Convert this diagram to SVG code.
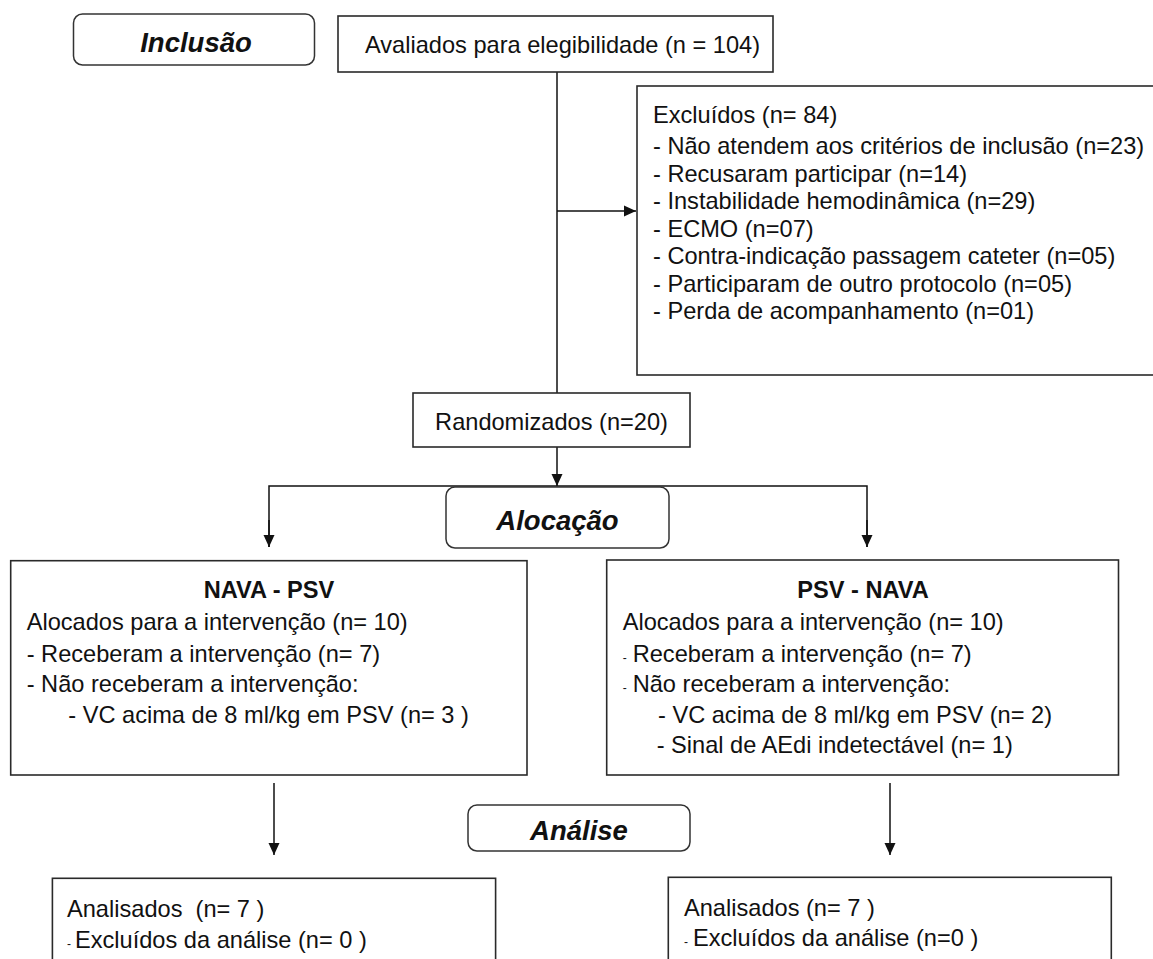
<svg xmlns="http://www.w3.org/2000/svg" width="1153" height="959" viewBox="0 0 1153 959">
<defs>
<marker id="ah" viewBox="0 0 12 12" refX="12" refY="6" markerWidth="12" markerHeight="12" markerUnits="userSpaceOnUse" orient="auto">
<path d="M0,0.5 L12,6 L0,11.5 Z" fill="#111"/>
</marker>
<style>
.box{fill:#fff;stroke:#2a2a2a;stroke-width:1.6}
.rbox{fill:#fff;stroke:#333;stroke-width:1.5}
.t{font-family:"Liberation Sans",Arial,sans-serif;font-size:23.6px;fill:#111}
.b{font-weight:bold}
.h{font-family:"Liberation Sans",Arial,sans-serif;font-size:27.5px;font-weight:bold;font-style:italic;fill:#111;text-anchor:middle}
.sd{font-size:12px}
.ln{fill:none;stroke:#111;stroke-width:1.5}
</style>
</defs>
<rect width="1153" height="959" fill="#fff"/>

<g id="connectors">
<path class="ln" d="M557,72 V393"/>
<path class="ln" d="M557,211 H636" marker-end="url(#ah)"/>
<path class="ln" d="M557,447 V486" marker-end="url(#ah)"/>
<path class="ln" d="M269,547 V486 H867 V547" />
<path class="ln" d="M269,520 V547" marker-end="url(#ah)"/>
<path class="ln" d="M867,520 V547" marker-end="url(#ah)"/>
<path class="ln" d="M274,783 V855" marker-end="url(#ah)"/>
<path class="ln" d="M890,783 V855" marker-end="url(#ah)"/>
</g>

<g id="inclusao">
<rect class="rbox" x="73.5" y="14" width="241" height="51" rx="9"/>
<text class="h" x="196" y="51.5">Inclusão</text>
</g>

<g id="avaliados">
<rect class="box" x="338" y="16" width="435" height="56"/>
<text class="t" x="365" y="53">Avaliados para elegibilidade (n = 104)</text>
</g>

<g id="excluidos">
<rect class="box" x="637" y="86" width="530" height="289"/>
<text class="t" x="653" y="123">Excluídos (n= 84)</text>
<text class="t" x="653" y="154">- Não atendem aos critérios de inclusão (n=23)</text>
<text class="t" x="653" y="181.5">- Recusaram participar (n=14)</text>
<text class="t" x="653" y="209">- Instabilidade hemodinâmica (n=29)</text>
<text class="t" x="653" y="236.5">- ECMO (n=07)</text>
<text class="t" x="653" y="264">- Contra-indicação passagem cateter (n=05)</text>
<text class="t" x="653" y="291.5">- Participaram de outro protocolo (n=05)</text>
<text class="t" x="653" y="319">- Perda de acompanhamento (n=01)</text>
</g>

<g id="randomizados">
<rect class="box" x="413" y="393" width="277" height="54"/>
<text class="t" x="551.5" y="430" text-anchor="middle">Randomizados (n=20)</text>
</g>

<g id="alocacao">
<rect class="rbox" x="446" y="487" width="223" height="61" rx="9"/>
<text class="h" x="557.5" y="529.5">Alocação</text>
</g>

<g id="nava-psv">
<rect class="box" x="10.7" y="560.7" width="516.3" height="214.3"/>
<text class="t b" x="269" y="598" text-anchor="middle">NAVA - PSV</text>
<text class="t" x="26.7" y="630">Alocados para a intervenção (n= 10)</text>
<text class="t" x="26.7" y="661.7">- Receberam a intervenção (n= 7)</text>
<text class="t" x="26.7" y="691.7">- Não receberam a intervenção:</text>
<text class="t" x="68.3" y="723.3">- VC acima de 8 ml/kg em PSV (n= 3 )</text>
</g>

<g id="psv-nava">
<rect class="box" x="606.7" y="560" width="511.8" height="215"/>
<text class="t b" x="863" y="598" text-anchor="middle">PSV - NAVA</text>
<text class="t" x="622.7" y="630">Alocados para a intervenção (n= 10)</text>
<text class="t" x="622.7" y="661.7"><tspan class="sd">-</tspan><tspan x="632.7">Receberam a intervenção (n= 7)</tspan></text>
<text class="t" x="622.7" y="691.7"><tspan class="sd">-</tspan><tspan x="632.7">Não receberam a intervenção:</tspan></text>
<text class="t" x="658" y="723">- VC acima de 8 ml/kg em PSV (n= 2)</text>
<text class="t" x="656.7" y="753.3">- Sinal de AEdi indetectável (n= 1)</text>
</g>

<g id="analise">
<rect class="rbox" x="468" y="805" width="222" height="46" rx="9"/>
<text class="h" x="579" y="840">Análise</text>
</g>

<g id="analisados-1">
<rect class="box" x="52.4" y="878.3" width="443.2" height="100"/>
<text class="t" x="67" y="916.7" xml:space="preserve">Analisados  (n= 7 )</text>
<text class="t" x="67" y="948"><tspan class="sd">-</tspan><tspan x="75">Excluídos da análise (n= 0 )</tspan></text>
</g>

<g id="analisados-2">
<rect class="box" x="668.3" y="877.3" width="443" height="100"/>
<text class="t" x="684" y="916">Analisados (n= 7 )</text>
<text class="t" x="684" y="946"><tspan class="sd">-</tspan><tspan x="693">Excluídos da análise (n=0 )</tspan></text>
</g>
</svg>
